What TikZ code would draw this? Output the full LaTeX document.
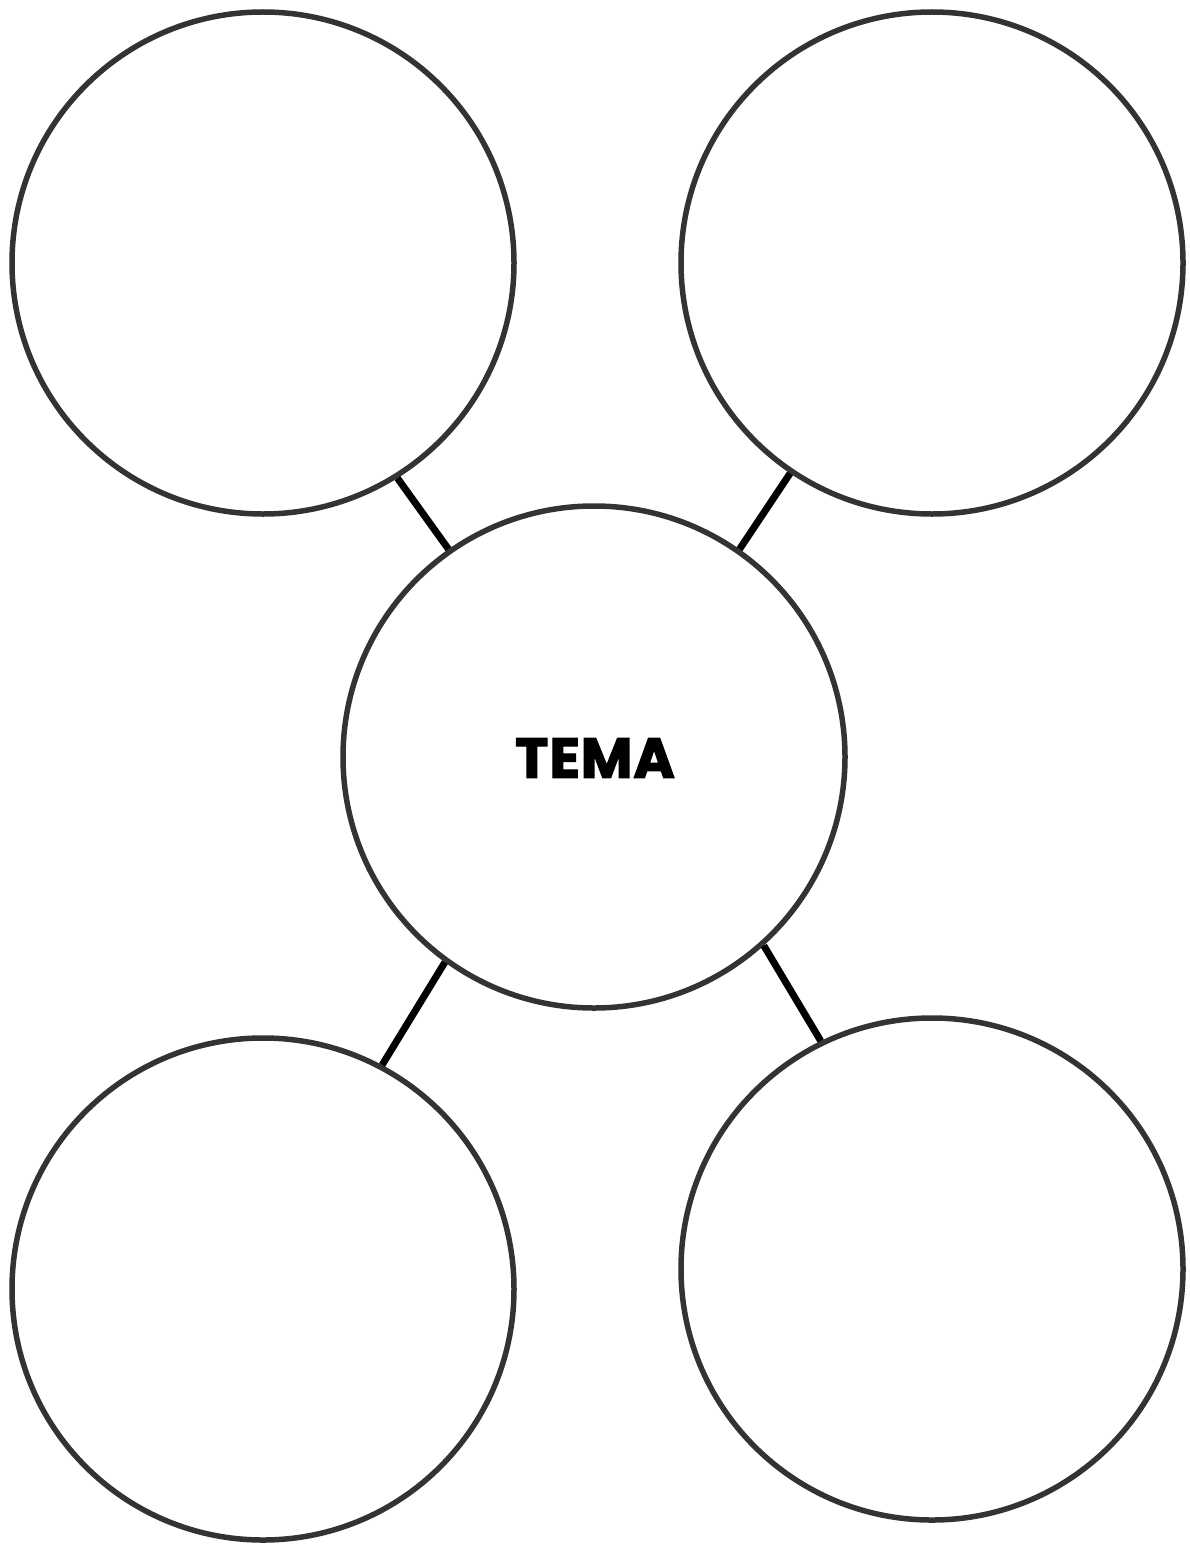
\documentclass[tikz,border=0pt]{standalone}
\usepackage{fontspec}
\setmainfont{Poppins}
\newfontfamily\heavyfont{Poppins}[UprightFont=*-Bold, FakeBold=2.5, LetterSpace=2]
\definecolor{ring}{HTML}{333333}
\begin{document}
\begin{tikzpicture}[x=1pt,y=-1pt,
  bubble/.style={circle,draw=ring,line width=5.5pt,minimum size=502pt,inner sep=0pt},
  link/.style={draw=black,line width=7pt,line cap=butt}]
\useasboundingbox (0,0) rectangle (1190,1544);
\node[bubble] (tl) at (263,263) {};
\node[bubble] (tr) at (932,263) {};
\node[bubble] (c) at (594,757) {};
\node[bubble] (bl) at (263,1289) {};
\node[bubble] (br) at (932,1269) {};
\node[font=\heavyfont\fontsize{56}{60}\selectfont, inner sep=0pt] (t) at (595,758) {TEMA};
\draw[link] (tl.-58) -- (c.125.2);
\draw[link] (tr.-124.4) -- (c.55.2);
\draw[link] (bl.62.4) -- (c.234.4);
\draw[link] (br.116.9) -- (c.-48.4);
\end{tikzpicture}
\end{document}
